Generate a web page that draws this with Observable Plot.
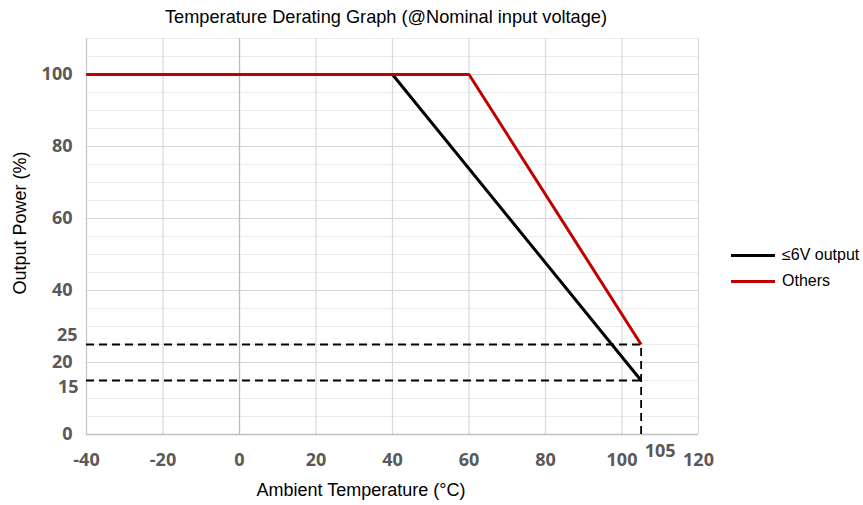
<!DOCTYPE html>
<html>
<head>
<meta charset="utf-8">
<script src="https://cdn.jsdelivr.net/npm/d3@7"></script>
<script src="https://cdn.jsdelivr.net/npm/@observablehq/plot@0.6"></script>
<style>
  html, body { margin: 0; padding: 0; background: #fff; }
  #wrap { position: relative; width: 863px; height: 505px; overflow: hidden; font-family: "Liberation Sans", Arial, sans-serif; }
  #title { position: absolute; left: 80px; width: 612px; top: 6px; line-height: 22px; text-align: center; font-size: 18.2px; color: #000; }
  #chart { position: absolute; left: 0; top: 30px; }
  #xlabel { position: absolute; left: 161px; width: 400px; top: 479px; line-height: 22px; text-align: center; font-size: 18px; color: #000; }
  #ylabel { position: absolute; left: 20px; top: 223px; transform: translate(-50%, -50%) rotate(-90deg); white-space: nowrap; font-size: 18px; line-height: 22px; color: #000; }
  #legend { position: absolute; left: 731px; top: 242px; font-size: 16px; color: #000; }
  .item { display: flex; align-items: center; height: 26px; }
  .sw { width: 44px; height: 3px; margin-right: 7px; }
</style>
</head>
<body>
<div id="wrap">
  <div id="title">Temperature Derating Graph (@Nominal input voltage)</div>
  <div id="chart"></div>
  <div id="xlabel">Ambient Temperature (°C)</div>
  <div id="ylabel">Output Power (%)</div>
  <div id="legend"></div>
</div>
<script>
// Series
const seriesNames = ["≤6V output", "Others"];
const seriesColors = ["#000000", "#c00000"];
const lowTemp = [-40, 40, 105];
const lowPower = [100, 100, 15];
const othersTemp = [-40, 60, 105];
const othersPower = [100, 100, 25];

// Axis ticks
const xTicks = [-40, -20, 0, 20, 40, 60, 80, 100, 120];
const yTicks = [0, 20, 40, 60, 80, 100];
const yMinor = [5, 10, 15, 20, 25, 30, 35, 40, 45, 50, 55, 60, 65, 70, 75, 80, 85, 90, 95, 100, 105, 110];
const yMajor = [20, 40, 60, 80, 100];
const xGrid = [-20, 20, 40, 60, 80, 100, 120];

// Reference (dashed) lines
const dashLevels = [25, 15];
const dashTemp = 105;
const dashStart = -40;

const lowData = lowTemp.map((t, i) => ({t, p: lowPower[i]}));
const othersData = othersTemp.map((t, i) => ({t, p: othersPower[i]}));
const hDash = dashLevels.map(v => ({x1: dashStart, x2: dashTemp, y: v}));
const vDash = [{x: dashTemp, y1: 0, y2: d3.max(dashLevels)}];

const tickFont = {fontSize: 18, fontWeight: "bold", fill: "#595959", fontFamily: "'Open Sans', sans-serif"};
const fmt = d => String(d);

const chart = Plot.plot({
  width: 863,
  height: 475,
  marginLeft: 86,
  marginRight: 165,
  marginTop: 8,
  marginBottom: 71,
  x: {domain: [-40, 120]},
  y: {domain: [0, 110]},
  style: {fontFamily: "'Open Sans', sans-serif", background: "#fff"},
  marks: [
    Plot.ruleY(yMinor, {stroke: "#ececec", strokeWidth: 1}),
    Plot.ruleY(yMajor, {stroke: "#d6d6d6", strokeWidth: 1.2}),
    Plot.ruleX(xGrid, {stroke: "#d9d9d9", strokeWidth: 1.2}),
    Plot.ruleX([0], {stroke: "#bdbdbd", strokeWidth: 1.3}),
    Plot.ruleX([-40], {stroke: "#c8c8c8", strokeWidth: 1.3}),
    Plot.ruleY([0], {stroke: "#bfbfbf", strokeWidth: 1.5}),
    Plot.ruleY(hDash, {x1: "x1", x2: "x2", y: "y", stroke: "#000", strokeWidth: 1.8, strokeDasharray: "8,5"}),
    Plot.ruleX(vDash, {x: "x", y1: "y1", y2: "y2", stroke: "#000", strokeWidth: 1.8, strokeDasharray: "8,5"}),
    Plot.line(lowData, {x: "t", y: "p", stroke: seriesColors[0], strokeWidth: 3, strokeLinejoin: "miter", strokeLinecap: "butt"}),
    Plot.line(othersData, {x: "t", y: "p", stroke: seriesColors[1], strokeWidth: 3, strokeLinejoin: "miter", strokeLinecap: "butt"}),
    Plot.axisX({ticks: xTicks, tickFormat: fmt, tickSize: 0, tickPadding: 19, label: null, ...tickFont}),
    Plot.axisY({ticks: yTicks, tickFormat: fmt, tickSize: 0, tickPadding: 14, label: null, ...tickFont}),
    Plot.text([dashLevels[0]], {x: -40, y: d => d, text: fmt, dx: -9, dy: -9, textAnchor: "end", ...tickFont}),
    Plot.text([dashLevels[1]], {x: -40, y: d => d, text: fmt, dx: -8, dy: 7, textAnchor: "end", ...tickFont}),
    Plot.text([dashTemp], {x: d => d, y: 0, text: fmt, dx: 19, dy: 17, textAnchor: "middle", ...tickFont})
  ]
});
document.getElementById("chart").appendChild(chart);

const legend = document.getElementById("legend");
seriesNames.forEach((name, i) => {
  const item = document.createElement("div");
  item.className = "item";
  const sw = document.createElement("div");
  sw.className = "sw";
  sw.style.background = seriesColors[i];
  const lab = document.createElement("span");
  lab.textContent = name;
  item.appendChild(sw);
  item.appendChild(lab);
  legend.appendChild(item);
});
</script>
</body>
</html>
